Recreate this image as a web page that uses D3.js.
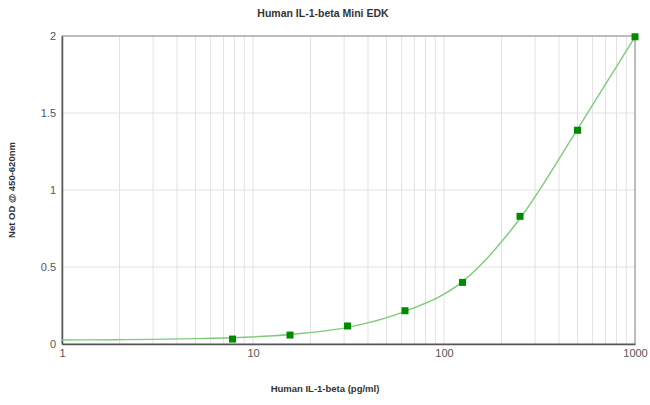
<!DOCTYPE html>
<html>
<head>
<meta charset="utf-8">
<script src="https://cdn.jsdelivr.net/npm/d3@7.9.0/dist/d3.min.js"></script>
<style>
  body { margin: 0; background: #fff; }
  svg { font-family: Arial, "Liberation Sans", sans-serif; }
  .tick text { fill: #555; font-size: 11px; }
</style>
</head>
<body>
<svg id="chart" width="650" height="405"></svg>
<script>
// standard concentrations (pg/ml) and measured OD
const concentrations = [7.8125, 15.625, 31.25, 62.5, 125, 250, 500, 1000];
const odValues = [0.032, 0.058, 0.117, 0.216, 0.40, 0.829, 1.388, 1.995];

// fitted curve
const fitConc = [1, 2, 3, 5, 7.8125, 15.625, 31.25, 62.5, 125, 250, 500, 1000];
const fitOd = [0.026, 0.028, 0.030, 0.035, 0.041, 0.062, 0.108, 0.212, 0.405, 0.815, 1.395, 1.995];

const yTicks = [0, 0.5, 1, 1.5, 2];
const xTicks = [1, 10, 100, 1000];

const margin = { top: 36, right: 15, bottom: 61, left: 62 };
const width = 650, height = 405;

const svg = d3.select('#chart');

const x = d3.scaleLog()
  .domain([1, 1000])
  .range([margin.left, width - margin.right]);

const y = d3.scaleLinear()
  .domain([0, 2])
  .range([height - margin.bottom, margin.top]);

// minor + major vertical grid
const gridX = [];
for (let d = 1; d < 1000; d *= 10) {
  for (let k = 2; k <= 10; k++) gridX.push(d * k);
}

svg.append('g')
  .selectAll('line')
  .data(gridX)
  .join('line')
  .attr('x1', d => x(d)).attr('x2', d => x(d))
  .attr('y1', y(0)).attr('y2', y(2))
  .attr('stroke', '#e2e2e2')
  .attr('stroke-width', 1);

svg.append('g')
  .selectAll('line')
  .data(yTicks.slice(1))
  .join('line')
  .attr('x1', x(1)).attr('x2', x(1000))
  .attr('y1', d => y(d)).attr('y2', d => y(d))
  .attr('stroke', '#e2e2e2')
  .attr('stroke-width', 1);

// frame
svg.append('rect')
  .attr('x', x(1)).attr('y', y(2))
  .attr('width', x(1000) - x(1))
  .attr('height', y(0) - y(2))
  .attr('fill', 'none')
  .attr('stroke', '#888')
  .attr('stroke-width', 1);

// axes
const xAxis = svg.append('g')
  .attr('transform', `translate(0,${y(0)})`)
  .call(d3.axisBottom(x).tickValues(xTicks).tickFormat(d3.format('d')).tickSize(0).tickPadding(5));
xAxis.select('.domain').attr('stroke', '#555').attr('stroke-width', 1.5);

const yAxis = svg.append('g')
  .attr('transform', `translate(${x(1)},0)`)
  .call(d3.axisLeft(y).tickValues(yTicks).tickFormat(d3.format('~g')).tickSize(0).tickPadding(6));
yAxis.select('.domain').attr('stroke', '#555').attr('stroke-width', 1.5);

// fitted curve
const fitData = fitConc.map((c, i) => [c, fitOd[i]]);
const line = d3.line()
  .x(d => x(d[0]))
  .y(d => y(d[1]))
  .curve(d3.curveMonotoneX);

svg.append('path')
  .datum(fitData)
  .attr('d', line)
  .attr('fill', 'none')
  .attr('stroke', '#7ccc7c')
  .attr('stroke-width', 1.4);

// standards
const pts = concentrations.map((c, i) => [c, odValues[i]]);
svg.append('g')
  .selectAll('rect')
  .data(pts)
  .join('rect')
  .attr('x', d => x(d[0]) - 3.5)
  .attr('y', d => y(d[1]) - 3.5)
  .attr('width', 7)
  .attr('height', 7)
  .attr('fill', '#008a00');

// titles
svg.append('text')
  .attr('x', 323).attr('y', 17)
  .attr('text-anchor', 'middle')
  .attr('font-size', 10.5)
  .attr('font-weight', 'bold')
  .attr('fill', '#333')
  .text('Human IL-1-beta Mini EDK');

svg.append('text')
  .attr('x', 325).attr('y', 392)
  .attr('text-anchor', 'middle')
  .attr('font-size', 9.5)
  .attr('font-weight', 'bold')
  .attr('fill', '#333')
  .text('Human IL-1-beta (pg/ml)');

svg.append('text')
  .attr('transform', 'translate(15,190) rotate(-90)')
  .attr('text-anchor', 'middle')
  .attr('font-size', 9.5)
  .attr('font-weight', 'bold')
  .attr('fill', '#333')
  .text('Net OD @ 450-620nm');
</script>
</body>
</html>
